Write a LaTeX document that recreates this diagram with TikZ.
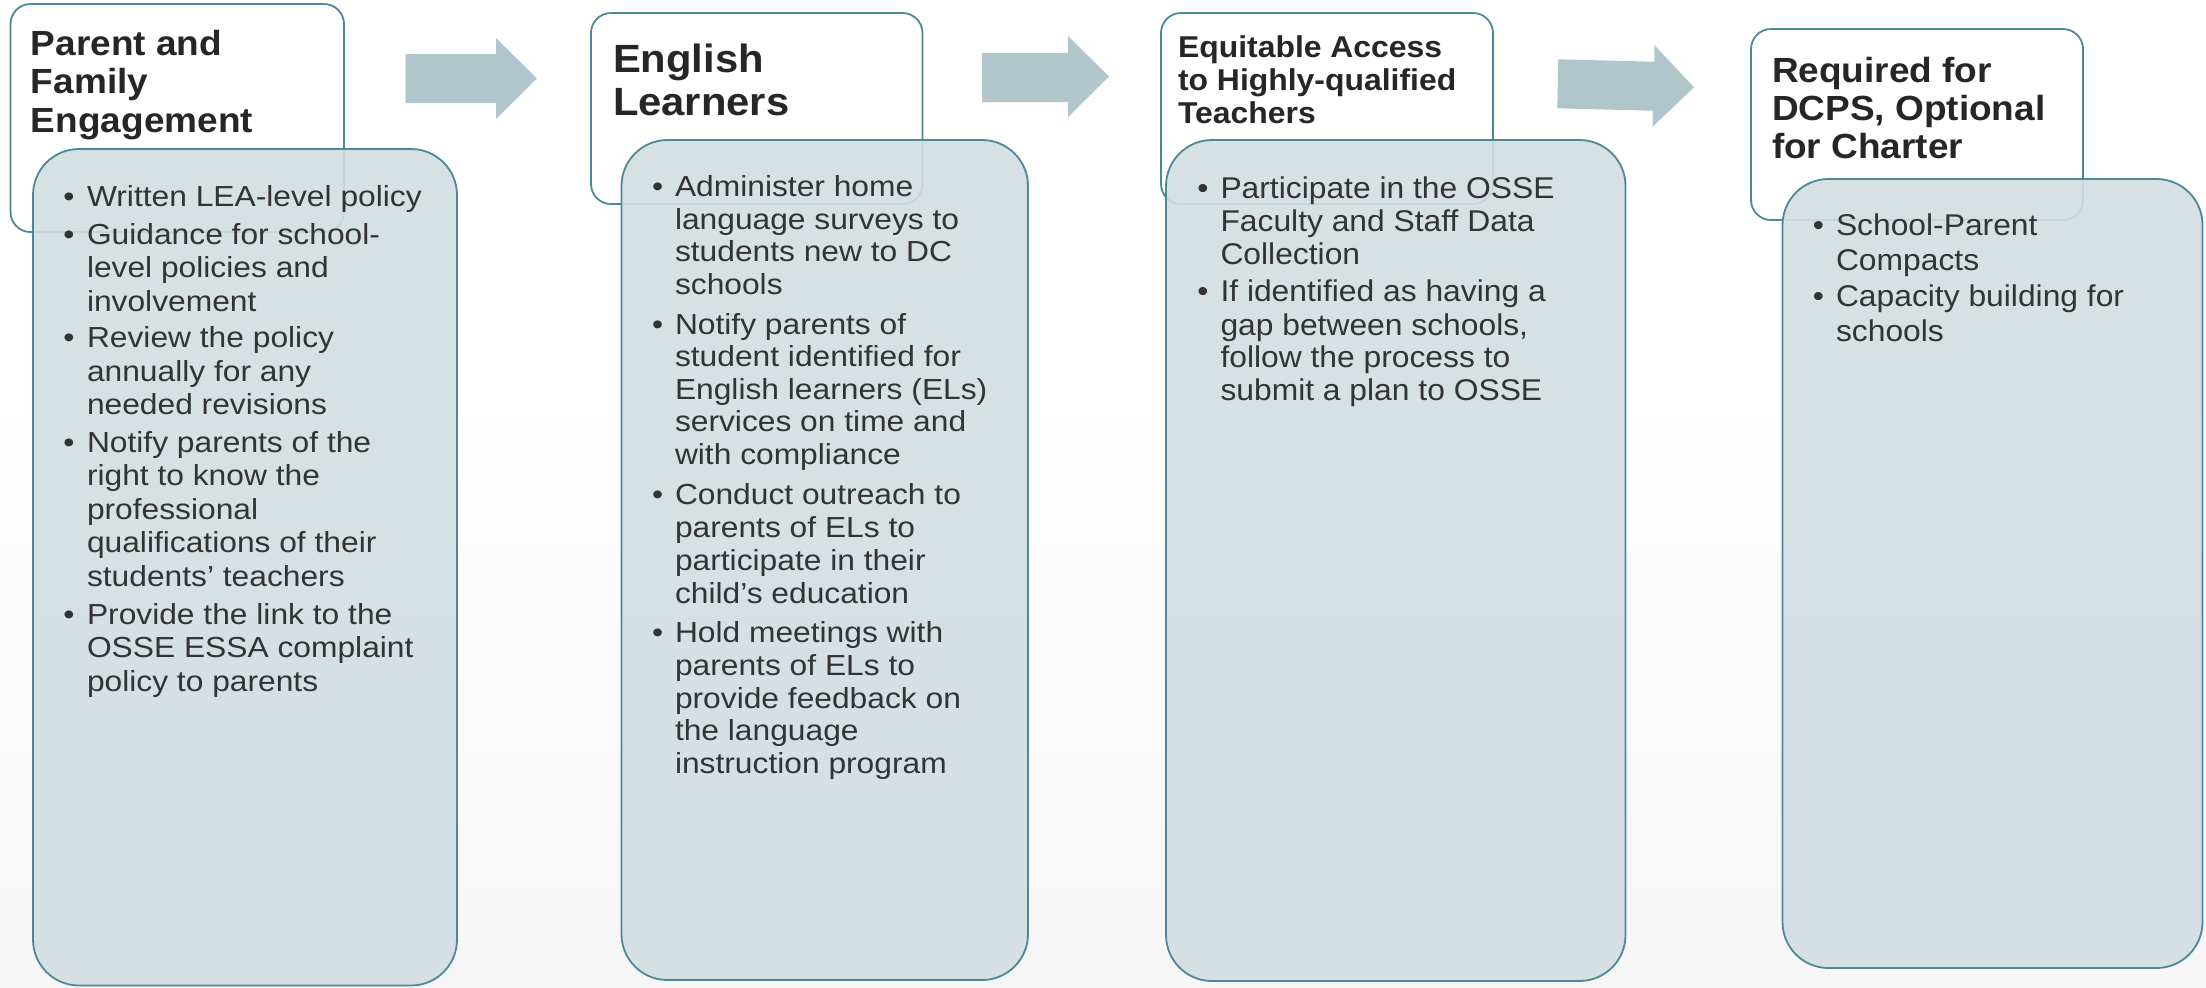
\documentclass[tikz,border=0pt]{standalone}
\usepackage{fontspec}
\setmainfont{Liberation Sans}
\newfontfamily\headfont[FakeStretch=1.06]{Liberation Sans}
\newfontfamily\itemfont[FakeStretch=1.06]{Liberation Sans}
\newfontfamily\itemfontwide[FakeStretch=1.095]{Liberation Sans}

\definecolor{edge}{RGB}{74,138,152}
\definecolor{panel}{RGB}{211,222,226}
\definecolor{arrowfill}{RGB}{177,198,204}
\definecolor{ink}{RGB}{38,38,38}
\definecolor{bodyink}{RGB}{51,51,51}
\definecolor{floor}{RGB}{246,246,246}

\tikzset{
  headbox/.style={draw=edge, line width=0.9pt, fill=white, rounded corners=10pt},
  panelbox/.style={draw=edge, line width=0.9pt, fill=panel, fill opacity=0.9, rounded corners=23pt},
  flowarrow/.style={fill=arrowfill, draw=none},
  rowtext/.style={anchor=base west, inner sep=0pt, outer sep=0pt, text=bodyink},
  headtext/.style={anchor=base west, inner sep=0pt, outer sep=0pt, text=ink},
  bulletmark/.style={anchor=base, inner sep=0pt, outer sep=0pt, text=bodyink},
}

% one node per printed line: #1 name prefix, #2 left x, #3 font, #4 list of baseline/text
\newcommand\textrows[4]{%
  \foreach \ry/\rt [count=\ri] in {#4} {\node[rowtext, font=#3] (#1-\ri) at (#2,\ry) {\rt};}}
\newcommand\headrows[4]{%
  \foreach \ry/\rt [count=\ri] in {#4} {\node[headtext, font=#3] (#1-\ri) at (#2,\ry) {\rt};}}
% bullet glyphs: #1 name prefix, #2 centre x, #3 font, #4 list of baselines
\newcommand\bulletrows[4]{%
  \foreach \by [count=\bi] in {#4} {\node[bulletmark, font=#3] (#1-\bi) at (#2,\by) {\textbullet};}}

\begin{document}
\begin{tikzpicture}[x=0.5pt, y=-0.5pt]
\useasboundingbox (0,0) rectangle (2206,987);

% page background, fading to light grey near the bottom
\fill[white] (0,0) rectangle (2206,987);
\shade[top color=white, bottom color=floor] (0,380) rectangle (2206,987);

% block arrows between the columns
\fill[flowarrow] (405.5,54) -- (496,54) -- (496,38) -- (537,78.5) -- (496,119) -- (496,103) -- (405.5,103) -- cycle;
\fill[flowarrow] (982,53) -- (1068,53) -- (1068,36) -- (1109,76.5) -- (1068,117) -- (1068,102) -- (982,102) -- cycle;
\fill[flowarrow] (1558.3,59.3) -- (1654.3,61.7) -- (1654.3,45) -- (1694,87.3) -- (1652.7,126.7) -- (1652.7,110.7) -- (1557.3,108.3) -- cycle;

% heading boxes
\draw[headbox] (10.5,4) rectangle (344,232);
\draw[headbox] (591,13) rectangle (922.5,204);
\draw[headbox] (1161,13) rectangle (1493,204);
\draw[headbox] (1751,29) rectangle (2083,220);

% content panels, laid over the lower part of the heading boxes
\draw[panelbox] (33,149) rectangle (457,985.5);
\draw[panelbox] (621.5,140) rectangle (1028,980);
\draw[panelbox] (1166,140) rectangle (1625.5,981);
\draw[panelbox] (1782.5,179) rectangle (2202.5,968);

% headings
\headrows{h1}{31}{\headfont\bfseries\fontsize{17.45pt}{19pt}\selectfont}
  {55/{Parent and}, 93.5/{Family}, 132/{Engagement}}
\headrows{h2}{613}{\headfont\bfseries\fontsize{19.7pt}{21.5pt}\selectfont}
  {72/{English}, 115/{Learners}}
\headrows{h3}{1178}{\headfont\bfseries\fontsize{15.05pt}{16.5pt}\selectfont}
  {57/{Equitable Access}, 90/{to Highly-qualified}, 123/{Teachers}}
\headrows{h4}{1772}{\headfont\bfseries\fontsize{17.45pt}{19pt}\selectfont}
  {82/{Required for}, 120/{DCPS, Optional}, 158/{for Charter}}

% panel 1
\bulletrows{d1}{69}{\itemfontwide\fontsize{14.5pt}{16pt}\selectfont}{206, 244, 347.5, 452, 624}
\textrows{r1}{87}{\itemfontwide\fontsize{14.5pt}{16pt}\selectfont}{
  206/{Written LEA-level policy},
  244/{Guidance for school-}, 277.5/{level policies and}, 311/{involvement},
  347.5/{Review the policy}, 381/{annually for any}, 414.5/{needed revisions},
  452/{Notify parents of the}, 485.5/{right to know the}, 519/{professional},
  552.5/{qualifications of their}, 586/{students’ teachers},
  624/{Provide the link to the}, 657.5/{OSSE ESSA complaint}, 691/{policy to parents}}

% panel 2
\bulletrows{d2}{657.7}{\itemfontwide\fontsize{14.5pt}{16pt}\selectfont}{196.6, 334, 504.7, 642.9}
\textrows{r2}{675}{\itemfontwide\fontsize{14.5pt}{16pt}\selectfont}{
  196.6/{Administer home}, 229.1/{language surveys to}, 261.6/{students new to DC}, 294.1/{schools},
  334/{Notify parents of}, 366.5/{student identified for}, 399/{English learners (ELs)},
  431.5/{services on time and}, 464.9/{with compliance},
  504.7/{Conduct outreach to}, 537.2/{parents of ELs to}, 570.6/{participate in their},
  603.1/{child’s education},
  642.9/{Hold meetings with}, 675.4/{parents of ELs to}, 708/{provide feedback on},
  740.5/{the language}, 773/{instruction program}}

% panel 3
\bulletrows{d3}{1203}{\itemfont\fontsize{15pt}{16pt}\selectfont}{198.3, 301.7}
\textrows{r3}{1220.5}{\itemfont\fontsize{15pt}{16pt}\selectfont}{
  198.3/{Participate in the OSSE}, 231.7/{Faculty and Staff Data}, 264/{Collection},
  301.7/{If identified as having a}, 335/{gap between schools,},
  367.3/{follow the process to}, 400.7/{submit a plan to OSSE}}

% panel 4
\bulletrows{d4}{1818.3}{\itemfont\fontsize{15pt}{16pt}\selectfont}{235, 306.7}
\textrows{r4}{1836}{\itemfont\fontsize{15pt}{16pt}\selectfont}{
  235/{School-Parent}, 270/{Compacts},
  306.7/{Capacity building for}, 341/{schools}}
\end{tikzpicture}
\end{document}
